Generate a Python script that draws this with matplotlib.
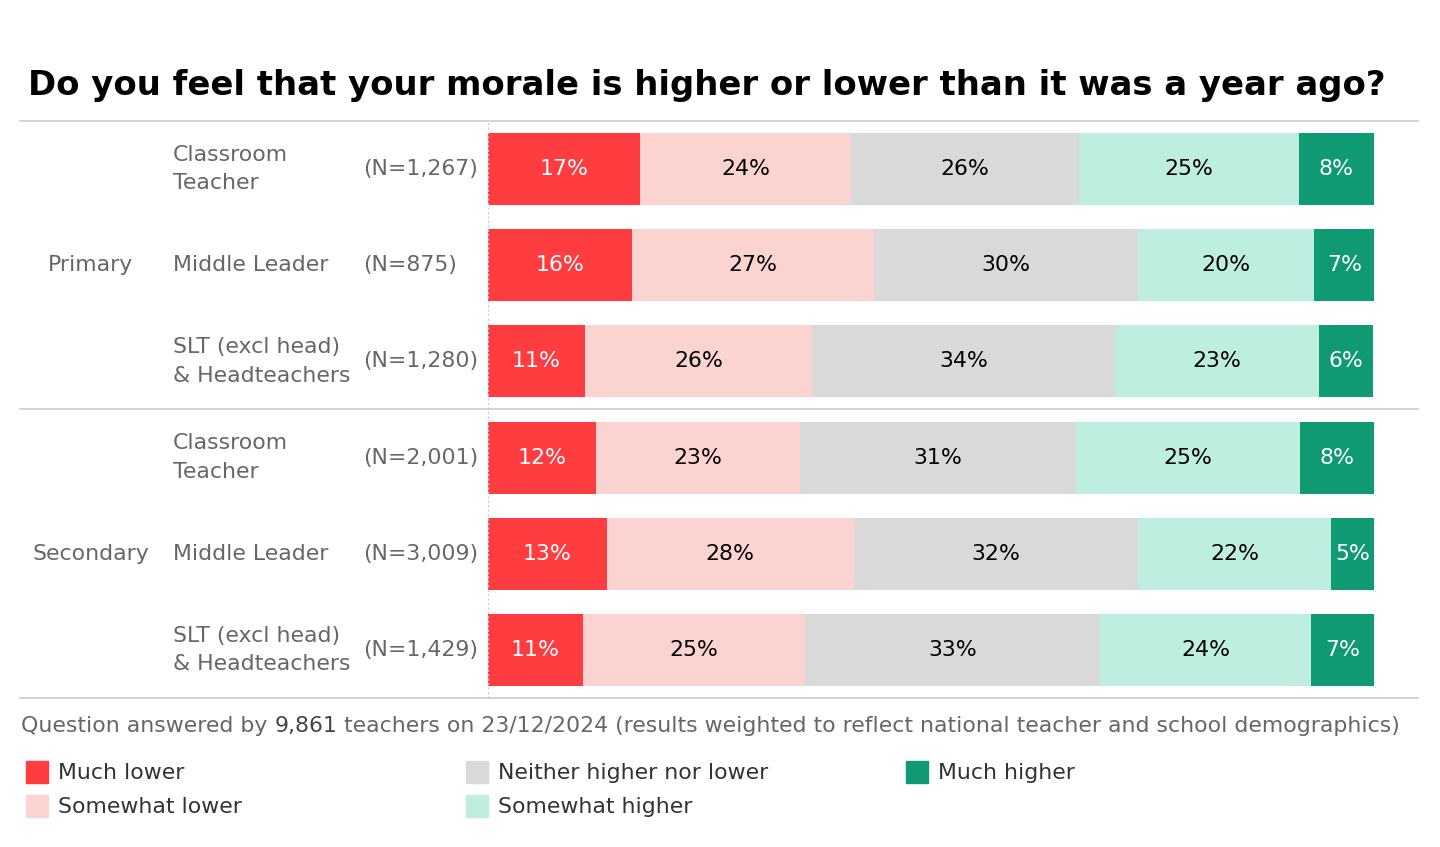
import matplotlib.pyplot as plt
from matplotlib.patches import Rectangle

plt.rcParams['font.family'] = ['DejaVu Sans']

phases = ["Primary", "Secondary"]
roles = ["Classroom\nTeacher", "Middle Leader", "SLT (excl head)\n& Headteachers"] * 2
counts = ["(N=1,267)", "(N=875)", "(N=1,280)", "(N=2,001)", "(N=3,009)", "(N=1,429)"]
answers = ["Much lower", "Somewhat lower", "Neither higher nor lower", "Somewhat higher", "Much higher"]

# shares per row (rows top to bottom)
much_lower = [17.2, 16.3, 10.9, 12.2, 13.4, 10.7]
somewhat_lower = [23.8, 27.3, 25.7, 23.0, 27.9, 25.1]
neither = [25.7, 29.8, 34.2, 31.2, 32.1, 33.3]
somewhat_higher = [24.8, 19.8, 23.0, 25.2, 21.7, 23.8]
much_higher = [8.5, 6.9, 6.1, 8.4, 5.0, 7.1]

colors = ["#ff3d40", "#fbd4d2", "#d9d9d9", "#bdeedf", "#0f9a74"]
text_colors = ["white", "black", "black", "black", "white"]
grey = "#666666"
fs = 15.8

W, H = 1440, 847
fig = plt.figure(figsize=(W / 100, H / 100), dpi=100)
ax = fig.add_axes([488 / W, 1 - 698 / H, (1374 - 488) / W, (698 - 121) / H])

series = [much_lower, somewhat_lower, neither, somewhat_higher, much_higher]
rows = list(range(len(counts)))
left = [0.0] * len(rows)
for vals, col, tc, name in zip(series, colors, text_colors, answers):
    ax.barh(rows, vals, left=left, height=0.75, color=col, label=name)
    for r, v, l in zip(rows, vals, left):
        ax.text(l + v / 2, r, f"{round(v)}%", ha="center", va="center",
                color=tc, fontsize=fs)
    left = [a + b for a, b in zip(left, vals)]

ax.set_xlim(0, 100)
ax.set_ylim(5.5, -0.5)
ax.axis("off")

# separators
for y in [-0.5, 2.5, 5.5]:
    ax.axhline(y, xmin=(20 - 488) / 886, xmax=(1418 - 488) / 886,
               color="#d0d0d0", lw=1.3, clip_on=False)
ax.axvline(0, color="#cccccc", lw=0.8, ls=(0, (2, 2)), clip_on=False)

tr = ax.get_yaxis_transform()
for i, p in enumerate(phases):
    ax.text((91 - 488) / 886, 1 + i * 3, p, transform=tr, ha="center",
            va="center", color=grey, fontsize=fs)
for r in rows:
    ax.text((173 - 488) / 886, r, roles[r], transform=tr, ha="left",
            va="center", color=grey, fontsize=fs, linespacing=1.52)
    ax.text((363 - 488) / 886, r, counts[r], transform=tr, ha="left",
            va="center", color=grey, fontsize=fs)

fig.text(28 / W, 1 - 85 / H, "Do you feel that your morale is higher or lower than it was a year ago?",
         fontsize=24.4, fontweight="bold", va="center", ha="left")

# footnote in three pieces so the count can be darker
fig.canvas.draw()
renderer = fig.canvas.get_renderer()
x = 21 / W
parts = [("Question answered by ", grey), ("9,861", "#444444"),
         (" teachers on 23/12/2024 (results weighted to reflect national teacher and school demographics)", grey)]
for s, c in parts:
    t = fig.text(x, 1 - 726 / H, s, fontsize=fs, color=c, va="center", ha="left")
    bb = t.get_window_extent(renderer)
    x = bb.x1 / W

# legend, filled column by column
for i, (name, col) in enumerate(zip(answers, colors)):
    cx = [26, 466, 906][i // 2]
    cy = [772, 806][i % 2]
    fig.add_artist(Rectangle((cx / W, 1 - (cy + 11) / H), 22 / W, 22 / H,
                             color=col, transform=fig.transFigure))
    fig.text((cx + 32) / W, 1 - (cy + 1) / H, name, fontsize=fs, color="#333333",
             va="center", ha="left")

fig.savefig("out.png", dpi=100)
